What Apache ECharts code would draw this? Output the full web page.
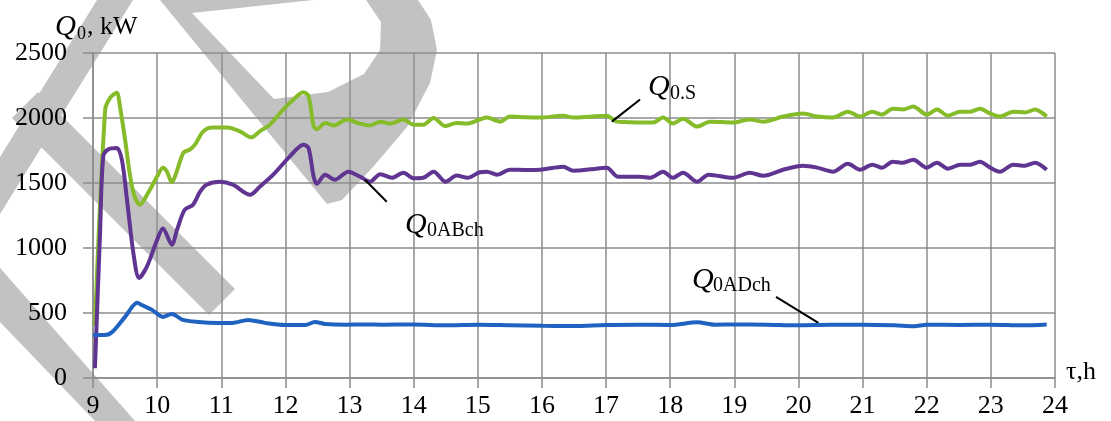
<!DOCTYPE html>
<html>
<head>
<meta charset="utf-8">
<script src="https://cdn.jsdelivr.net/npm/echarts@6/dist/echarts.min.js"></script>
<style>
  html, body { margin: 0; padding: 0; background: #fff; }
  #chart { width: 1111px; height: 421px; }
</style>
</head>
<body>
<div id="chart"></div>
<script>
// hours (tau, h) and Q0 values (kW)
var qsHours = [9.03, 9.19, 9.27, 9.37, 9.42, 9.5, 9.58, 9.65, 9.73, 9.86, 10.0, 10.09, 10.15, 10.23, 10.3, 10.41, 10.51, 10.59, 10.72, 10.87, 11.09, 11.29, 11.47, 11.6, 11.76, 11.92, 12.1, 12.28, 12.36, 12.44, 12.49, 12.62, 12.75, 12.96, 13.16, 13.32, 13.48, 13.63, 13.84, 14.0, 14.15, 14.31, 14.49, 14.67, 14.83, 15.03, 15.14, 15.35, 15.5, 15.75, 15.97, 16.33, 16.49, 16.75, 17.01, 17.17, 17.35, 17.53, 17.73, 17.89, 18.04, 18.2, 18.42, 18.62, 18.98, 19.24, 19.45, 19.76, 20.07, 20.29, 20.54, 20.77, 20.96, 21.15, 21.3, 21.47, 21.63, 21.79, 22.0, 22.16, 22.33, 22.52, 22.68, 22.83, 22.99, 23.14, 23.35, 23.53, 23.69, 23.87];
var qsValues = [400, 2065, 2157, 2195, 2090, 1834, 1550, 1395, 1333, 1425, 1550, 1617, 1590, 1505, 1580, 1733, 1757, 1795, 1897, 1926, 1926, 1897, 1851, 1897, 1949, 2040, 2130, 2198, 2170, 1938, 1913, 1962, 1943, 1988, 1957, 1943, 1972, 1957, 1988, 1949, 1949, 2000, 1938, 1962, 1957, 1988, 2003, 1972, 2011, 2005, 2003, 2018, 2003, 2010, 2018, 1972, 1968, 1965, 1965, 2003, 1957, 1995, 1934, 1972, 1965, 1988, 1972, 2011, 2034, 2011, 2003, 2049, 2011, 2049, 2026, 2072, 2065, 2088, 2026, 2065, 2018, 2049, 2049, 2072, 2034, 2011, 2049, 2042, 2065, 2011];

var abHours = [9.03, 9.11, 9.16, 9.24, 9.37, 9.45, 9.53, 9.63, 9.72, 9.84, 10.0, 10.09, 10.23, 10.31, 10.43, 10.56, 10.67, 10.77, 10.98, 11.18, 11.45, 11.6, 11.81, 12.07, 12.28, 12.36, 12.44, 12.49, 12.62, 12.77, 12.98, 13.16, 13.32, 13.48, 13.66, 13.84, 14.0, 14.15, 14.31, 14.5, 14.67, 14.84, 15.03, 15.14, 15.3, 15.5, 15.75, 15.97, 16.33, 16.49, 16.75, 17.01, 17.19, 17.53, 17.69, 17.89, 18.04, 18.2, 18.42, 18.6, 18.98, 19.24, 19.45, 19.76, 20.07, 20.29, 20.54, 20.77, 20.96, 21.15, 21.3, 21.47, 21.63, 21.79, 22.0, 22.16, 22.33, 22.52, 22.68, 22.83, 22.99, 23.14, 23.35, 23.53, 23.69, 23.87];
var abValues = [75, 1115, 1705, 1760, 1770, 1680, 1371, 960, 770, 857, 1063, 1150, 1025, 1140, 1294, 1333, 1433, 1487, 1510, 1487, 1410, 1471, 1564, 1705, 1795, 1770, 1550, 1494, 1564, 1525, 1587, 1550, 1510, 1568, 1540, 1579, 1536, 1540, 1587, 1510, 1557, 1540, 1583, 1587, 1564, 1602, 1600, 1602, 1625, 1595, 1605, 1618, 1548, 1548, 1540, 1587, 1540, 1579, 1510, 1564, 1540, 1579, 1556, 1602, 1633, 1618, 1587, 1648, 1602, 1641, 1618, 1664, 1656, 1679, 1618, 1656, 1610, 1641, 1641, 1664, 1618, 1587, 1641, 1633, 1656, 1602];

var adHours = [9.0, 9.19, 9.3, 9.5, 9.69, 9.76, 9.92, 10.09, 10.23, 10.4, 10.64, 10.95, 11.17, 11.42, 11.68, 11.99, 12.31, 12.46, 12.62, 12.93, 13.25, 13.5, 14.0, 14.5, 15.0, 15.5, 16.0, 16.5, 17.0, 17.5, 18.0, 18.42, 18.7, 19.0, 19.5, 20.0, 20.5, 21.0, 21.5, 21.8, 22.0, 22.5, 23.0, 23.5, 23.87];
var adValues = [331, 331, 354, 470, 578, 562, 524, 470, 493, 447, 431, 424, 424, 447, 424, 408, 408, 431, 416, 410, 412, 410, 412, 405, 410, 406, 402, 400, 408, 410, 408, 428, 410, 412, 410, 406, 410, 410, 405, 398, 410, 408, 410, 405, 412];

var xTicks = { min: 9, max: 24, step: 1 };
var yTicks = { min: 0, max: 2500, step: 500 };

function pairs(xs, ys) {
  return xs.map(function (x, i) { return [x, ys[i]]; });
}

var gridColor = "#8c8c8c";
var serif = "Liberation Serif";

var myChart = echarts.init(document.getElementById("chart"));

function leader(a, b) {
  return {
    silent: true,
    symbol: ["none", "none"],
    label: { show: false },
    lineStyle: { color: "#000", width: 2, type: "solid" },
    data: [[{ coord: a }, { coord: b }]],
  };
}

var option = {
  animation: false,
  backgroundColor: "#fff",
  grid: { left: 93, right: 56, top: 53, bottom: 43, containLabel: false },
  xAxis: {
    type: "value",
    min: xTicks.min,
    max: xTicks.max,
    interval: xTicks.step,
    axisLine: { lineStyle: { color: gridColor, width: 1.5 } },
    axisTick: { show: true, inside: false, length: 10, lineStyle: { color: gridColor, width: 1.5 } },
    splitLine: { show: true, lineStyle: { color: gridColor, width: 1.5 } },
    axisLabel: { color: "#000", fontFamily: serif, fontSize: 26, margin: 15 },
  },
  yAxis: {
    type: "value",
    min: yTicks.min,
    max: yTicks.max,
    interval: yTicks.step,
    axisLine: { show: true, lineStyle: { color: gridColor, width: 1.5 } },
    axisTick: { show: true, inside: false, length: 10, lineStyle: { color: gridColor, width: 1.5 } },
    splitLine: { show: true, lineStyle: { color: gridColor, width: 1.5 } },
    axisLabel: {
      color: "#000", fontFamily: serif, fontSize: 26, margin: 26,
      formatter: function (v) { return String(v); },
    },
  },
  series: [
    {
      name: "Q0.S",
      type: "line",
      data: pairs(qsHours, qsValues),
      showSymbol: false,
      smooth: 0.3,
      lineStyle: { color: "#86bc2a", width: 4 },
      z: 3,
      markLine: leader([17.09, 1972], [17.53, 2142]),
    },
    {
      name: "Q0ABch",
      type: "line",
      data: pairs(abHours, abValues),
      showSymbol: false,
      smooth: 0.3,
      lineStyle: { color: "#603592", width: 4 },
      z: 4,
      markLine: leader([13.24, 1525], [13.58, 1356]),
    },
    {
      name: "Q0ADch",
      type: "line",
      data: pairs(adHours, adValues),
      showSymbol: false,
      smooth: 0.3,
      lineStyle: { color: "#1f62bf", width: 4 },
      z: 5,
      markLine: leader([19.65, 624], [20.31, 424]),
    },
  ],
};

myChart.setOption(option);

// watermark shapes (background decoration)
var wm = "#c2c2c2";
var watermark = [
  [[97, 0], [133, 0], [0, 214], [0, 157]],
  [[38, 92], [235, 289], [209, 315], [12, 118]],
  [[0, 268], [0, 322], [95, 421], [135, 421]],
  [[160, 0], [327, 204], [342, 200], [373, 167], [407, 127], [430, 83], [437, 50], [431, 20], [418, 0]],
].map(function (pts) {
  return { type: "polygon", shape: { points: pts }, style: { fill: wm }, z: -10, silent: true };
});
watermark.push({
  type: "polygon",
  shape: { points: [[192, 13], [313, 0], [366, 0], [381, 22], [380, 50], [364, 74], [328, 92], [274, 99]] },
  style: { fill: "#fff" },
  z: -9,
  silent: true,
});

// curve labels, anchored in data units
function qLabel(at, sub, qSize, subSize, dx, dy) {
  var p = myChart.convertToPixel({ gridIndex: 0 }, at);
  return {
    type: "group",
    x: p[0],
    y: p[1],
    z: 20,
    children: [
      { type: "text", x: 0, y: 0, style: { text: "Q", font: "italic " + qSize + "px " + serif, fill: "#000", verticalAlign: "middle" } },
      { type: "text", x: dx, y: dy, style: { text: sub, font: subSize + "px " + serif, fill: "#000", verticalAlign: "middle" } },
    ],
  };
}

var labels = [
  qLabel([17.654, 2234], "0.S", 30, 20, 22, 6),
  qLabel([13.865, 1179], "0ABch", 30, 20, 22, 6),
  qLabel([18.34, 755], "0ADch", 30, 20, 21, 6),
  {
    type: "group",
    x: 55,
    y: 27,
    z: 20,
    children: [
      { type: "text", x: 0, y: 0, style: { text: "Q", font: "italic 29px " + serif, fill: "#000", verticalAlign: "middle" } },
      { type: "text", x: 22, y: 7, style: { text: "0", font: "18px " + serif, fill: "#000", verticalAlign: "middle" } },
      { type: "text", x: 32, y: 0, style: { text: ", kW", font: "26px " + serif, fill: "#000", verticalAlign: "middle" } },
    ],
  },
  { type: "text", x: 1066, y: 372, z: 20, style: { text: "τ,h", font: "26px " + serif, fill: "#000", verticalAlign: "middle" } },
];

myChart.setOption({ graphic: watermark.concat(labels) });
</script>
</body>
</html>
